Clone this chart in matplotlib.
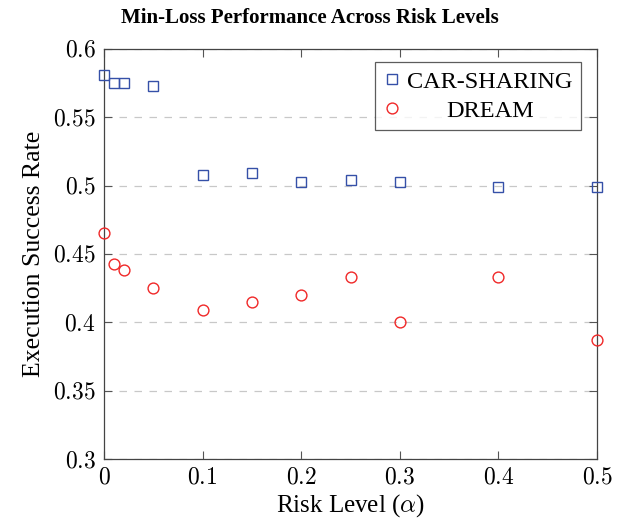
import matplotlib
matplotlib.use("Agg")
import matplotlib.pyplot as plt
from matplotlib.ticker import FixedLocator, FuncFormatter

alpha = [0.0, 0.01, 0.02, 0.05, 0.1, 0.15, 0.2, 0.25, 0.3, 0.4, 0.5]
car_sharing = [0.581, 0.575, 0.575, 0.573, 0.508, 0.509, 0.503, 0.504, 0.503, 0.499, 0.499]
dream = [0.465, 0.443, 0.438, 0.425, 0.409, 0.415, 0.420, 0.433, 0.400, 0.433, 0.387]
xticks = [0, 0.1, 0.2, 0.3, 0.4, 0.5]
yticks = [0.3, 0.35, 0.4, 0.45, 0.5, 0.55, 0.6]

plt.rcParams['font.family'] = ['Liberation Serif', 'DejaVu Serif']
plt.rcParams['mathtext.fontset'] = 'cm'

fig = plt.figure(figsize=(6.24, 5.25), dpi=100)
ax = fig.add_axes([0.1667, 0.1257, 0.790, 0.781])

ax.plot(alpha, car_sharing, linestyle='none', marker='s', markersize=7.6,
        markerfacecolor='none', markeredgecolor='#3550a8', markeredgewidth=1.0,
        label='CAR-SHARING', clip_on=False, zorder=3)
ax.plot(alpha, dream, linestyle='none', marker='o', markersize=7.8,
        markerfacecolor='none', markeredgecolor='#f02828', markeredgewidth=1.0,
        label='DREAM', clip_on=False, zorder=3)

ax.set_xlim(0, 0.5)
ax.set_ylim(0.3, 0.6)
ax.xaxis.set_major_locator(FixedLocator(xticks))
ax.yaxis.set_major_locator(FixedLocator(yticks))

def fmt(v, pos):
    return r'$%s$' % ('%g' % v)

ax.xaxis.set_major_formatter(FuncFormatter(fmt))
ax.yaxis.set_major_formatter(FuncFormatter(fmt))

ax.tick_params(axis='both', direction='in', length=6, width=0.8, color='#555555',
               labelsize=17, top=True, right=True, pad=6)
for sp in ax.spines.values():
    sp.set_color('#444444')
    sp.set_linewidth(0.9)

ax.yaxis.grid(True, linestyle=(0, (6, 6)), color='#c8c8c8', linewidth=0.9)
ax.set_axisbelow(True)

ax.set_xlabel(r'Risk Level ($\alpha$)', fontsize=18, labelpad=3)
ax.set_ylabel('Execution Success Rate', fontsize=18.5, labelpad=6)
fig.text(0.497, 1 - 18 / 525, 'Min-Loss Performance Across Risk Levels', fontsize=15,
         fontweight='bold', ha='center', va='center')

leg = ax.legend(loc='upper right', bbox_to_anchor=(0.968, 0.968), borderaxespad=0,
                fontsize=17.5, frameon=True, fancybox=False, edgecolor='#333333',
                handletextpad=0.3, handlelength=0.7, labelspacing=0.3,
                borderpad=0.35, markerscale=1.0)
leg.get_frame().set_linewidth(0.9)

# centre the shorter legend label within the text column
fig.canvas.draw()
renderer = fig.canvas.get_renderer()
texts = leg.get_texts()
widths = [t.get_window_extent(renderer).width for t in texts]
wmax = max(widths)
for t, w in zip(texts, widths):
    t.set_x(t.get_position()[0] + (wmax - w) / 2.0)

fig.savefig('out.png', dpi=100)
